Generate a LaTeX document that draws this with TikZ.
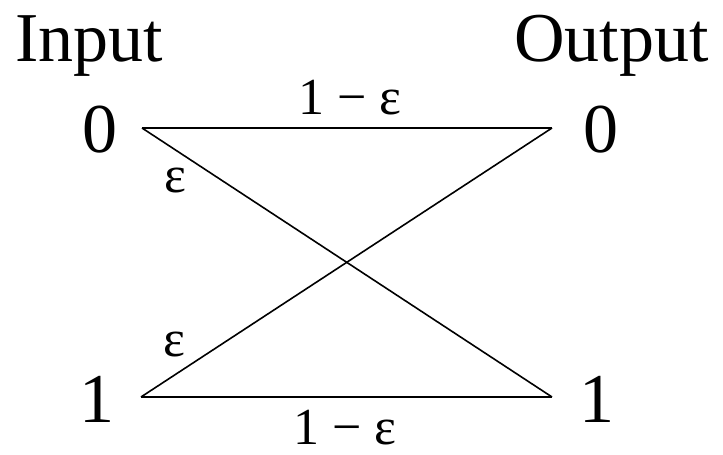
\documentclass[tikz,border=0pt]{standalone}
\usepackage{fontspec}
\setmainfont{Liberation Serif}
\begin{document}
\begin{tikzpicture}[x=1pt,y=1pt,
  big/.style={inner sep=0pt,anchor=base,font=\fontsize{70}{80}\selectfont},
  small/.style={inner sep=0pt,anchor=base,font=\fontsize{52}{60}\selectfont},
  chan/.style={line width=1.6pt}]
\useasboundingbox (0,0) rectangle (723,455);
\node[big,anchor=base west] (inp) at (15,393) {Input};
\node[big,anchor=base west] (outp) at (514,393) {Output};
\node[big] (x0) at (100,302) {0};
\node[big] (y0) at (601,302) {0};
\node[big] (x1) at (97,32) {1};
\node[big] (y1) at (597,32) {1};
\coordinate (a0) at (142,327);
\coordinate (b0) at (552,327);
\coordinate (a1) at (141,58);
\coordinate (b1) at (552,58);
\draw[chan] (a0) -- (b0);
\draw[chan] (a1) -- (b1);
\draw[chan] (a0) -- (b1);
\draw[chan] (a1) -- (b0);
\node[small] (l00) at (350,340) {1 − ε};
\node[small] (l11) at (345,10) {1 − ε};
\node[small] (l01) at (175,262) {ε};
\node[small] (l10) at (174,98) {ε};
\end{tikzpicture}
\end{document}
